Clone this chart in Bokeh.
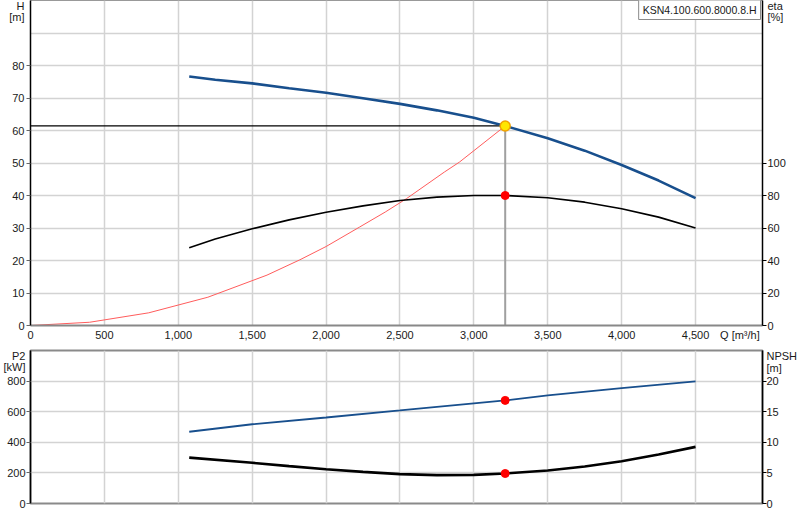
from bokeh.plotting import figure
from bokeh.models import Range1d, LinearAxis, FixedTicker, NumeralTickFormatter, Label
from bokeh.layouts import column
from bokeh.embed import file_html
from bokeh.resources import INLINE

# ---------------- data ----------------
pump_name = "KSN4.100.600.8000.8.H"

q_ticks = [0, 500, 1000, 1500, 2000, 2500, 3000, 3500, 4000, 4500]
h_ticks = [0, 10, 20, 30, 40, 50, 60, 70, 80]
eta_ticks = [0, 20, 40, 60, 80, 100]
p2_ticks = [0, 200, 400, 600, 800]
npsh_ticks = [0, 5, 10, 15, 20]

# axis titles
q_title = "Q [m³/h]"
h_title = ["H", "[m]"]
eta_title = ["eta", "[%]"]
p2_title = ["P2", "[kW]"]
npsh_title = ["NPSH", "[m]"]

# pump head curve H [m]
q_head = [1074, 1250, 1500, 1750, 2000, 2250, 2500, 2750, 3000, 3212,
          3500, 3750, 4000, 4250, 4500]
head = [76.6, 75.6, 74.5, 73.0, 71.6, 69.9, 68.2, 66.2, 63.9, 61.4,
        57.6, 53.8, 49.4, 44.6, 39.2]

# efficiency eta [%]
q_eta = [1074, 1250, 1500, 1750, 2000, 2250, 2500, 2750, 3000, 3212,
         3500, 3750, 4000, 4250, 4500]
eta = [47.8, 53.2, 59.5, 65.0, 69.7, 73.6, 76.9, 79.0, 80.0, 80.0,
       78.6, 75.9, 71.8, 66.7, 60.0]

# system curve H [m]
q_sys = [0, 400, 800, 1200, 1600, 1822, 2000, 2227, 2400, 2543, 2800, 2903, 3212]
h_sys = [0.0, 1.0, 3.9, 8.7, 15.5, 20.2, 24.3, 30.3, 34.9, 39.0, 47.2, 50.3, 61.4]

# shaft power P2 [kW]
q_p2 = [1074, 1500, 2000, 2500, 3000, 3212, 3500, 4000, 4500]
p2_val = [469, 518, 562, 608, 655, 674, 707, 754, 798]

# NPSH [m]
q_npsh = [1074, 1500, 1750, 2000, 2250, 2500, 2750, 3000, 3212, 3500,
          3750, 4000, 4250, 4500]
npsh = [7.5, 6.65, 6.1, 5.6, 5.17, 4.8, 4.63, 4.68, 4.9, 5.4,
        6.05, 6.9, 8.0, 9.25]

# duty point
q_op = 3212
h_op = 61.4
eta_op = 80.0
p2_op = 674
npsh_op = 4.9

# ---------------- styling ----------------
FONT = "Liberation Sans"
BLUE = "#184f8d"
GRID = "#d3d3d3"
TXT = "#1a1a1a"
X_END = 4953
H_MAX, ETA_MAX, P2_MAX, NPSH_MAX = 100, 200, 1000, 25
TOP_FRAME_H, BOT_FRAME_H = 325, 153


def title_ticks(rng_max, frame_h, titles):
    """place the two-line axis title as extra tick labels near the top of the frame"""
    pos = [round(rng_max - 5 * rng_max / frame_h, 2),
           round(rng_max - 17 * rng_max / frame_h, 2)]
    return pos, dict(zip(pos, titles))


def style_axis(ax, ticks, extra_pos, overrides, tick_color, standoff):
    ax.ticker = FixedTicker(ticks=ticks + extra_pos, minor_ticks=ticks)
    ax.formatter = NumeralTickFormatter(format="0")
    ax.major_label_overrides = overrides
    ax.axis_line_color = "black"
    ax.axis_line_width = 1.5
    ax.major_tick_line_color = None
    ax.minor_tick_line_color = tick_color
    ax.minor_tick_line_width = 1
    ax.minor_tick_out = 4
    ax.minor_tick_in = 0
    ax.major_tick_out = 4
    ax.major_tick_in = 0
    ax.major_label_text_font = FONT
    ax.major_label_text_font_size = "11px"
    ax.major_label_text_color = TXT
    ax.major_label_standoff = standoff


x_rng = Range1d(0, X_END)

# ---------------- top chart ----------------
p1 = figure(width=800, height=348, x_range=x_rng, y_range=Range1d(0, H_MAX),
            output_backend="svg", toolbar_location=None,
            min_border_left=30, min_border_right=37,
            min_border_top=0, min_border_bottom=23)
p1.extra_y_ranges = {"eta": Range1d(0, ETA_MAX)}
p1.outline_line_color = "#999999"
p1.outline_line_width = 1
p1.background_fill_color = "white"
p1.border_fill_color = "white"

pos, ov = title_ticks(H_MAX, TOP_FRAME_H, h_title)
style_axis(p1.left[0], h_ticks, pos, ov, "#666666", 2)

q_title_pos = 4800
xa = p1.below[0]
xa.ticker = FixedTicker(ticks=q_ticks + [q_title_pos])
xa.formatter = NumeralTickFormatter(format="0,0")
xa.major_label_overrides = {q_title_pos: q_title}
xa.axis_line_color = "#888888"
xa.axis_line_width = 2
xa.major_tick_line_color = None
xa.minor_tick_line_color = None
xa.major_tick_out = 0
xa.major_tick_in = 0
xa.minor_tick_out = 0
xa.major_label_text_font = FONT
xa.major_label_text_font_size = "11px"
xa.major_label_text_color = TXT
xa.major_label_standoff = 3

ra = LinearAxis(y_range_name="eta")
pos, ov = title_ticks(ETA_MAX, TOP_FRAME_H, eta_title)
style_axis(ra, eta_ticks, pos, ov, "black", 1)
p1.add_layout(ra, "right")

p1.xgrid.ticker = FixedTicker(ticks=q_ticks)
p1.ygrid.ticker = FixedTicker(ticks=list(range(0, 101, 10)))
for g in (p1.xgrid, p1.ygrid):
    g.grid_line_color = GRID
    g.grid_line_width = 1.5

p1.line(q_sys, h_sys, line_color="#ff5c5c", line_width=1)
p1.line([0, q_op], [h_op, h_op], line_color="black", line_width=1.2)
p1.line([q_op, q_op], [0, h_op], line_color="#a0a0a0", line_width=2)
p1.line(q_eta, eta, y_range_name="eta", line_color="black", line_width=1.6)
p1.line(q_head, head, line_color=BLUE, line_width=2.6)
p1.scatter([q_op], [eta_op], y_range_name="eta", size=8,
           fill_color="#ff0000", line_color="#ff0000")
p1.scatter([q_op], [h_op], size=10, fill_color="#ffe600",
           line_color="#f2a200", line_width=1.5)

p1.add_layout(Label(x=X_END, y=H_MAX, x_offset=-2, y_offset=1, text=pump_name,
                    text_align="right", text_baseline="top",
                    text_font=FONT, text_font_size="10.5px", text_color=TXT,
                    background_fill_color="white", border_line_color="#8a8a8a",
                    border_line_width=1, padding=(4, 4)))

# ---------------- bottom chart ----------------
p2 = figure(width=800, height=172, x_range=x_rng, y_range=Range1d(0, P2_MAX),
            output_backend="svg", toolbar_location=None,
            min_border_left=30, min_border_right=37,
            min_border_top=2, min_border_bottom=17)
p2.extra_y_ranges = {"npsh": Range1d(0, NPSH_MAX)}
p2.outline_line_color = "#8a8a8a"
p2.outline_line_width = 2
p2.below[0].visible = False

pos, ov = title_ticks(P2_MAX, BOT_FRAME_H, p2_title)
style_axis(p2.left[0], p2_ticks, pos, ov, "#666666", 1)
ra2 = LinearAxis(y_range_name="npsh")
pos, ov = title_ticks(NPSH_MAX, BOT_FRAME_H, npsh_title)
style_axis(ra2, npsh_ticks, pos, ov, "black", 0)
p2.add_layout(ra2, "right")

p2.xgrid.ticker = FixedTicker(ticks=q_ticks)
p2.ygrid.ticker = FixedTicker(ticks=list(range(0, 1001, 200)))
for g in (p2.xgrid, p2.ygrid):
    g.grid_line_color = GRID
    g.grid_line_width = 1.5

p2.line(q_p2, p2_val, line_color=BLUE, line_width=1.8)
p2.line(q_npsh, npsh, y_range_name="npsh", line_color="black", line_width=2.6)
p2.scatter([q_op], [p2_op], size=8, fill_color="#ff0000", line_color="#ff0000")
p2.scatter([q_op], [npsh_op], y_range_name="npsh", size=8,
           fill_color="#ff0000", line_color="#ff0000")

layout = column(p1, p2, spacing=0)

open("out.html", "w").write(file_html(layout, INLINE))
